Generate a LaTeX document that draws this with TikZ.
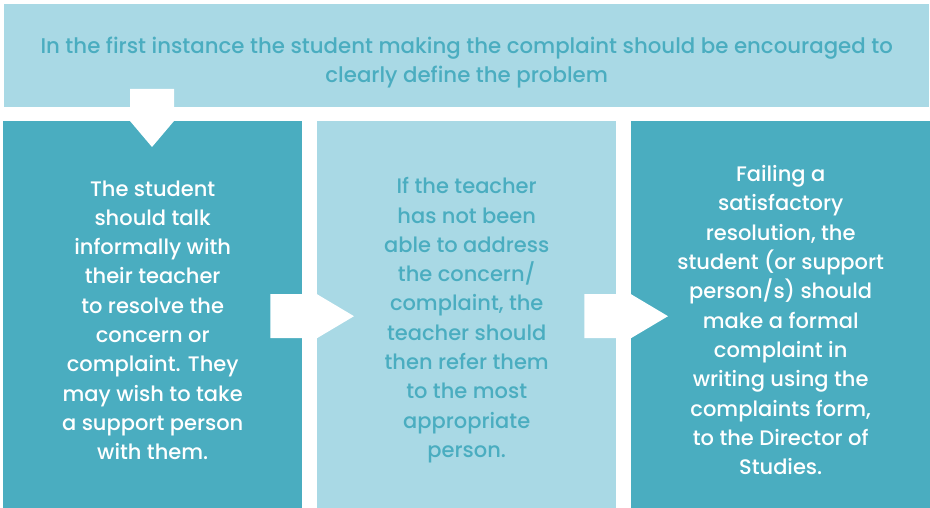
\documentclass[tikz,border=0pt]{standalone}
\usepackage{fontspec}
\setmainfont{Poppins}[UprightFont={* Medium}]
\usetikzlibrary{calc}

\definecolor{darkteal}{HTML}{4AADC0}
\definecolor{lightteal}{HTML}{A9D9E5}

\tikzset{
    stepbox/.style={rectangle, anchor=north west, inner sep=0pt, minimum width=299pt, minimum height=398pt, align=center, font=\fontsize{21}{29.3}\selectfont},
    darkstep/.style={stepbox, fill=darkteal, text=white},
    lightstep/.style={stepbox, fill=lightteal, text=darkteal},
    flowarrow/.style={fill=white}
}

\begin{document}
\begin{tikzpicture}[x=1pt,y=-1pt]
        \useasboundingbox (0,0) rectangle (930,508);
        \clip (0,0) rectangle (930,508);

        \node[lightstep, minimum width=925pt, minimum height=103pt] (intro) at (4,4) {};
        \node[align=center, inner sep=0pt, text=darkteal, font=\fontsize{21.3}{29.3}\selectfont, yshift=-7pt] (introtext) at (intro.center) {In the first instance the student making the complaint should be encouraged to\\clearly define the problem};

        \node[darkstep] (student) at (3,121) {The student\\should talk\\informally with\\their teacher\\to resolve the\\concern or\\complaint. They\\may wish to take\\a support person\\with them.};
        \node[lightstep] (teacher) at (317,121) {If the teacher\\has not been\\able to address\\the concern/\\complaint, the\\teacher should\\then refer them\\to the most\\appropriate\\person.};
        \node[darkstep] (formal) at (631,121) {Failing a\\satisfactory\\resolution, the\\student (or support\\person/s) should\\make a formal\\complaint in\\writing using the\\complaints form,\\to the Director of\\Studies.};

        % down arrow from the intro box
        \coordinate (down) at ($(student.north west)+(149,0)$);
        \fill[flowarrow] ($(down)+(-22,-32)$) -- ($(down)+(22,-32)$) -- ($(down)+(22,0)$) -- ($(down)+(0,26)$) -- ($(down)+(-22,0)$) -- cycle;

        % arrows between the steps
        \foreach \from/\to in {student/teacher, teacher/formal} {
            \fill[flowarrow] ($(\from.east)+(-32,-26)$) -- ($(\to.west)+(0,-26)$) -- ($(\to.west)+(37,-4)$) -- ($(\to.west)+(0,18)$) -- ($(\from.east)+(-32,18)$) -- cycle;
        }
    \end{tikzpicture}
\end{document}
